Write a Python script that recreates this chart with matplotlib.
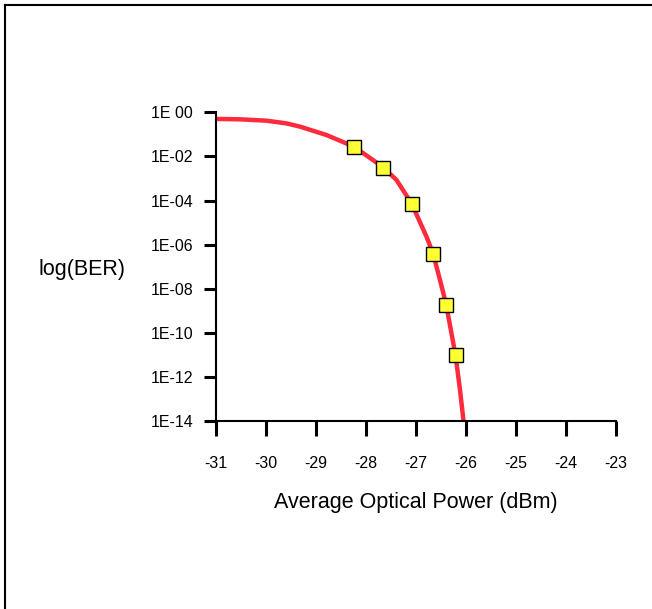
import numpy as np
import matplotlib.pyplot as plt
from matplotlib.lines import Line2D

plt.rcParams['font.family'] = ['Liberation Sans', 'DejaVu Sans']

# measured points (dBm, BER)
power_pts = [-28.24, -27.67, -27.09, -26.66, -26.40, -26.21]
ber_pts = [2.6e-2, 2.9e-3, 6.7e-5, 3.9e-7, 1.8e-9, 9.5e-12]

# fitted curve (dBm, log10 BER)
power_fit = [-31.0, -30.5, -29.99, -29.6, -29.32, -28.79, -28.24, -27.67, -27.39,
             -27.09, -26.79, -26.66, -26.52, -26.40, -26.29, -26.21, -26.12, -26.05]
logber_fit = [-0.30, -0.32, -0.38, -0.50, -0.65, -1.03, -1.56, -2.47, -3.07,
              -4.13, -5.64, -6.40, -7.61, -8.68, -10.03, -11.02, -12.59, -14.0]

xticks = [-31, -30, -29, -28, -27, -26, -25, -24, -23]
ytick_exp = [0, -2, -4, -6, -8, -10, -12, -14]
ytick_labels = ['1E 00', '1E-02', '1E-04', '1E-06', '1E-08', '1E-10', '1E-12', '1E-14']

fig = plt.figure(figsize=(6.52, 6.09), dpi=100)
ax = fig.add_axes([0.3313, 0.3087, 0.6135, 0.5069])

ax.plot(power_fit, [10.0 ** v for v in logber_fit], color='#ff2a3c', linewidth=3.2,
        solid_capstyle='butt', zorder=2, clip_on=True)
ax.plot(power_pts, ber_pts, linestyle='none', marker='s', markersize=10.5,
        markerfacecolor='#ffff33', markeredgecolor='black', markeredgewidth=1.0, zorder=3)

ax.set_yscale('log')
ax.set_xlim(-31, -23)
ax.set_ylim(1e-14, 1)
ax.set_xticks(xticks)
ax.set_xticklabels([str(t) for t in xticks])
ax.set_yticks([10.0 ** e for e in ytick_exp])
ax.set_yticklabels(ytick_labels)
ax.yaxis.set_minor_locator(plt.NullLocator())

for s in ['top', 'right']:
    ax.spines[s].set_visible(False)
for s in ['left', 'bottom']:
    ax.spines[s].set_linewidth(1.5)

ax.tick_params(axis='x', direction='out', length=11, width=2.2, labelsize=11.5, pad=14)
ax.tick_params(axis='y', direction='out', length=9, width=2.2, labelsize=11.5, pad=7.5)

ax.set_xlabel('Average Optical Power (dBm)', fontsize=15.5, labelpad=15)
fig.text(0.192, 0.558, 'log(BER)', fontsize=15.5, ha='right', va='center')

# page frame
fig.add_artist(Line2D([5 / 652, 1.0], [1 - 5 / 609, 1 - 5 / 609], color='black',
                      linewidth=1.5, transform=fig.transFigure))
fig.add_artist(Line2D([5 / 652, 5 / 652], [0.0, 1 - 5 / 609], color='black',
                      linewidth=1.5, transform=fig.transFigure))

fig.savefig('out.png', dpi=100)
